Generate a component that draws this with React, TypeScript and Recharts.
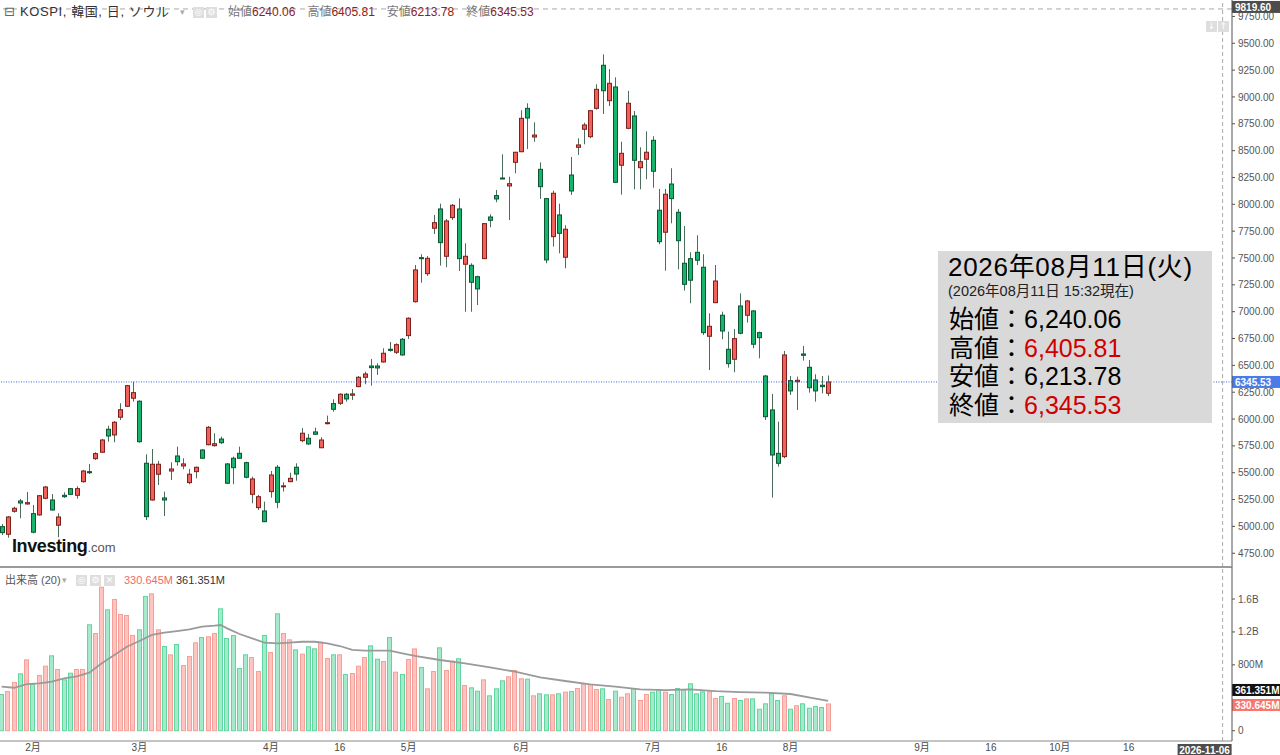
import React from 'react';
import { ComposedChart, Bar, Line, XAxis, YAxis, ReferenceLine } from 'recharts';

// ---------- data ----------
const tradingDays: [number, number[]][] = [
  [1, [26, 27, 28, 29, 30]],
  [2, [2, 3, 4, 5, 6, 9, 10, 11, 12, 13, 19, 20, 23, 24, 25, 26, 27]],
  [3, [3, 4, 5, 6, 9, 10, 11, 12, 13, 16, 17, 18, 19, 20, 23, 24, 25, 26, 27, 30, 31]],
  [4, [1, 2, 3, 6, 7, 8, 9, 10, 13, 14, 15, 16, 17, 20, 21, 22, 23, 24, 27, 28, 29, 30]],
  [5, [4, 6, 7, 8, 11, 12, 13, 14, 15, 18, 19, 20, 21, 22, 26, 27, 28, 29]],
  [6, [1, 2, 4, 5, 8, 9, 10, 11, 12, 15, 16, 17, 18, 19, 22, 23, 24, 25, 26, 29, 30]],
  [7, [1, 2, 3, 6, 7, 8, 9, 10, 13, 14, 15, 16, 20, 21, 22, 23, 24, 27, 28, 29, 30, 31]],
  [8, [3, 4, 5, 6, 7, 10, 11]],
];
const futureDays: [number, number[]][] = [
  [8, [12, 13, 14, 17, 18, 19, 20, 21, 24, 25, 26, 27, 28, 31]],
  [9, [1, 2, 3, 4, 7, 8, 9, 10, 11, 14, 15, 16, 17, 18, 21, 22, 23, 24, 25, 28, 29, 30]],
  [10, [1, 2, 5, 6, 7, 8, 9, 12, 13, 14, 15, 16, 19, 20, 21, 22, 23, 26, 27, 28, 29, 30]],
  [11, [2, 3, 4, 5, 6, 9]],
];

const openP = [
  4998, 4927, 5141, 5237, 5209, 5119, 5107, 5262, 5246, 5011, 5290, 5352, 5290, 5417, 5510, 5631, 5691, 5905, 5852, 6017,
  6119, 6194, 6166, 5588, 5246, 5486, 5265, 5516, 5656, 5563, 5408, 5510, 5712, 5761, 5752, 5814, 5582, 5635, 5681, 5594,
  5299, 5175, 5144, 5324, 5551, 5370, 5417, 5551, 5799, 5821, 5880, 5733, 5957, 6144, 6147, 6231, 6222, 6302, 6389, 6494,
  6494, 6532, 6650, 6622, 6743, 6777, 7093, 7503, 7354, 7777, 7957, 7516, 7876, 7957, 7442, 7432, 7326, 7494, 7882, 8081,
  8245, 8171, 8391, 8490, 8894, 8627, 8326, 8053, 7699, 7901, 7507, 8273, 8531, 8699, 8630, 8894, 9295, 8965, 9093, 8364,
  8708, 8823, 8341, 8420, 8596, 7945, 7740, 8189, 7926, 7451, 7494, 7553, 7414, 6771, 7084, 6967, 6650, 6557, 7053, 6967,
  7007, 6805, 6401, 6085, 5681, 5650, 6358, 6348, 6606, 6482, 6364, 6315, 6240.06,
];
const highP = [
  5023, 5097, 5184, 5256, 5321, 5200, 5290, 5377, 5302, 5122, 5318, 5358, 5374, 5526, 5582, 5691, 5815, 5938, 5982, 6147,
  6318, 6348, 6175, 5672, 5721, 5610, 5324, 5597, 5743, 5635, 5535, 5557, 5721, 5936, 5868, 5836, 5590, 5650, 5743, 5603,
  5463, 5293, 5231, 5516, 5572, 5411, 5500, 5588, 5917, 5861, 5920, 5830, 6032, 6184, 6240, 6243, 6280, 6401, 6441, 6560,
  6520, 6659, 6718, 6706, 6755, 6948, 7435, 7535, 7519, 7901, 8006, 7863, 8003, 8056, 7637, 7451, 7335, 7825, 7907, 8134,
  8466, 8257, 8488, 8876, 8941, 8764, 8391, 8060, 8127, 8006, 7805, 8441, 8615, 8760, 8879, 9118, 9397, 9260, 9183, 8583,
  9056, 8869, 8531, 8680, 8634, 8143, 8143, 8336, 7957, 7798, 7553, 7712, 7535, 6985, 7435, 7000, 6814, 6839, 7171, 7109,
  7015, 6814, 6411, 6234, 5976, 6634, 6401, 6395, 6681, 6550, 6417, 6401, 6405.81,
];
const lowP = [
  4920, 4895, 5128, 5076, 5203, 4936, 5100, 5253, 5147, 4899, 5265, 5292, 5258, 5407, 5488, 5619, 5685, 5789, 5784, 5991,
  6112, 6162, 5780, 5060, 5240, 5386, 5097, 5433, 5566, 5532, 5393, 5448, 5630, 5755, 5743, 5768, 5395, 5393, 5630, 5448,
  5216, 5153, 5040, 5268, 5169, 5324, 5411, 5426, 5784, 5760, 5855, 5728, 5951, 6069, 6131, 6162, 6178, 6296, 6324, 6311,
  6411, 6525, 6628, 6606, 6590, 6746, 7085, 7270, 7333, 7724, 7429, 7414, 7854, 7379, 6999, 6999, 7062, 7490, 7786, 8019,
  8236, 7854, 8289, 8485, 8515, 8583, 8050, 7451, 7606, 7544, 7404, 8087, 8460, 8559, 8615, 8881, 8841, 8916, 8200, 8090,
  8700, 8140, 8140, 8233, 8155, 7628, 7382, 7823, 7395, 7196, 7078, 7435, 6783, 6457, 7080, 6743, 6479, 6436, 6790, 6898,
  6659, 6566, 5991, 5268, 5557, 5635, 6224, 6085, 6544, 6246, 6162, 6240, 6213.78,
];
const closeP = [
  4942, 5088, 5169, 5218, 5221, 4946, 5286, 5367, 5153, 5088, 5277, 5299, 5352, 5516, 5500, 5678, 5805, 5842, 5970, 6087,
  6311, 6246, 5789, 5091, 5579, 5579, 5246, 5535, 5603, 5582, 5486, 5551, 5635, 5923, 5770, 5780, 5402, 5547, 5635, 5458,
  5442, 5277, 5044, 5479, 5225, 5378, 5448, 5488, 5868, 5768, 5858, 5805, 5966, 6091, 6231, 6187, 6234, 6389, 6420, 6479,
  6476, 6613, 6640, 6693, 6597, 6939, 7389, 7494, 7497, 7829, 7643, 7845, 7991, 7494, 7516, 7274, 7212, 7820, 7851, 8050,
  8236, 8192, 8485, 8801, 8804, 8645, 8164, 7482, 8103, 7730, 7768, 8124, 8553, 8739, 8872, 9071, 9058, 9127, 8205, 8475,
  8941, 8410, 8397, 8485, 8308, 7652, 8094, 8053, 7661, 7255, 7293, 7479, 6805, 6864, 7286, 6820, 6516, 6749, 6799, 7100,
  6697, 6758, 6022, 5665, 5588, 6597, 6262, 6361, 6594, 6292, 6262, 6302, 6345.53,
];
// volume in millions of shares
const volumeM = [
  446, 482, 592, 697, 867, 567, 677, 790, 916, 750, 624, 705, 750, 750, 1293, 1187, 1750, 1475, 1600, 1418,
  1406, 1163, 1232, 1637, 1669, 1232, 1029, 928, 1053, 798, 908, 1074, 1138, 1147, 1187, 1487, 1126, 1163, 762, 928,
  895, 725, 1163, 956, 1426, 1187, 1110, 989, 936, 1025, 1001, 1082, 883, 928, 928, 689, 701, 790, 895, 1037,
  875, 847, 1138, 717, 689, 871, 1000, 775, 515, 725, 1013, 737, 851, 880, 555, 527, 486, 624, 430, 515,
  612, 661, 737, 637, 632, 430, 454, 442, 442, 454, 474, 482, 519, 576, 567, 507, 515, 385, 486, 413,
  454, 515, 373, 446, 474, 507, 474, 446, 519, 503, 576, 454, 478, 478, 397, 422, 340, 397, 373, 393,
  393, 267, 333, 454, 373, 430, 267, 309, 333, 279, 300, 288, 330.645,
];
// 20-day volume average, read at these bar positions
const maAt = [0, 2, 4, 6, 8, 10, 12, 14, 16, 18, 20, 22, 24, 26, 28, 30, 32, 34, 35, 36, 38, 40, 42, 44, 46, 48, 50, 52, 54, 56, 58, 60, 62, 64, 66, 70, 74, 78, 82, 86, 90, 94, 98, 102, 106, 110, 114, 118, 122, 126, 130, 132];
const maValue = [535, 522, 567, 576, 595, 637, 661, 705, 819, 920, 1021, 1090, 1163, 1191, 1211, 1232, 1264, 1276, 1284, 1244, 1175, 1123, 1069, 1062, 1069, 1081, 1081, 1062, 1029, 981, 972, 972, 972, 940, 908, 859, 819, 770, 717, 649, 604, 564, 535, 503, 494, 503, 482, 470, 462, 446, 389, 361.351];

const priceTicks = [4750, 5000, 5250, 5500, 5750, 6000, 6250, 6500, 6750, 7000, 7250, 7500, 7750, 8000, 8250, 8500, 8750, 9000, 9250, 9500, 9750];
const volumeTicks = [0, 800, 1200, 1600];
const xTickLabels: [string, string][] = [
  ['2026-02-02', '2月'], ['2026-03-03', '3月'], ['2026-04-01', '4月'], ['2026-04-16', '16'], ['2026-05-04', '5月'],
  ['2026-06-01', '6月'], ['2026-07-01', '7月'], ['2026-07-16', '16'], ['2026-08-03', '8月'], ['2026-09-01', '9月'],
  ['2026-09-16', '16'], ['2026-10-01', '10月'], ['2026-10-16', '16'],
];
const lastClose = 6345.53;
const crossPrice = 9819.6;
const crossDate = '2026-11-06';
const volLast = 330.645;
const volMaLast = 361.351;

// ---------- build rows ----------
const pad = (n: number) => (n < 10 ? '0' + n : '' + n);
const toDates = (list: [number, number[]][]) =>
  list.flatMap(([m, ds]) => ds.map((d) => `2026-${pad(m)}-${pad(d)}`));
const allDates = [...toDates(tradingDays), ...toDates(futureDays)];
const maMap = new Map<number, number>(maAt.map((i, k) => [i, maValue[k]]));
const rows = allDates.map((date, i) =>
  i < openP.length
    ? {
        date,
        open: openP[i],
        high: highP[i],
        low: lowP[i],
        close: closeP[i],
        range: [lowP[i], highP[i]],
        volume: volumeM[i],
        ma: maMap.has(i) ? maMap.get(i) : null,
      }
    : { date }
);
const labelMap = new Map(xTickLabels);
const xTicks = xTickLabels.map((t) => t[0]);

// ---------- styles ----------
const FONT = "'Liberation Sans', Arial, 'Noto Sans CJK JP', sans-serif";
const UP_FILL = '#f2605a';
const UP_EDGE = '#7d1f1b';
const DN_FILL = '#17b46c';
const DN_EDGE = '#0b5533';
const WICK = '#4d6d5c';
const VUP_FILL = '#ffc3c0';
const VUP_EDGE = '#f69e98';
const VDN_FILL = '#a6e9cb';
const VDN_EDGE = '#5fd6a0';
const AXIS = '#555';

function Candle(props: any) {
  const { x, y, width, height, payload } = props;
  if (!payload || payload.open == null || !isFinite(y) || !isFinite(height)) return null;
  const top = Math.min(y, y + height);
  const bottom = Math.max(y, y + height);
  const { open: o, close: c, high: h, low: l } = payload;
  const k = (bottom - top) / (h - l || 1);
  const py = (v: number) => top + (h - v) * k;
  const up = c >= o;
  const cx = Math.round(x + width / 2) + 0.5;
  const bTop = py(Math.max(o, c));
  const bBot = py(Math.min(o, c));
  return (
    <g>
      <line x1={cx} x2={cx} y1={top} y2={bottom} stroke={WICK} strokeWidth={1} />
      <rect
        x={cx - 2}
        y={bTop}
        width={4}
        height={Math.max(bBot - bTop, 1)}
        fill={up ? UP_FILL : DN_FILL}
        stroke={up ? UP_EDGE : DN_EDGE}
        strokeWidth={1}
      />
    </g>
  );
}

function VolBar(props: any) {
  const { x, y, width, height, payload } = props;
  if (!payload || payload.volume == null || !isFinite(y) || !isFinite(height)) return null;
  const up = payload.close >= payload.open;
  const x0 = Math.round(x) + 0.5;
  const w = Math.max(Math.round(width) - 1, 1);
  return (
    <rect
      x={x0}
      y={y + 0.5}
      width={w}
      height={Math.max(height - 0.5, 0)}
      fill={up ? VUP_FILL : VDN_FILL}
      stroke={up ? VUP_EDGE : VDN_EDGE}
      strokeWidth={1}
    />
  );
}

const makeTag = (text: string, bg: string, dy: number) => (p: any) => {
  const vb = p.viewBox || {};
  const x = (vb.x || 0) + (vb.width || 0);
  const y = (vb.y || 0) + dy;
  return (
    <g>
      <rect x={x} y={y - 6} width={50} height={12} fill={bg} />
      <text x={x + 3} y={y + 3.6} fill="#fff" fontSize={10} fontWeight="bold" fontFamily={FONT}>
        {text}
      </text>
    </g>
  );
};

const dateTag = (text: string) => (p: any) => {
  const vb = p.viewBox || {};
  const x = vb.x || 0;
  const y = (vb.y || 0) + (vb.height || 0);
  return (
    <g>
      <rect x={x - 45} y={y + 3} width={54} height={12} fill="#4d4d4d" />
      <text x={x - 18} y={y + 12.5} fill="#fff" fontSize={10} fontWeight="bold" textAnchor="middle" fontFamily={FONT}>
        {text}
      </text>
    </g>
  );
};

const iconBox = (left: number, top: number, glyph: string) => (
  <div
    style={{
      position: 'absolute',
      left,
      top,
      width: 11,
      height: 11,
      background: '#dedede',
      color: '#fff',
      fontSize: 9,
      lineHeight: '11px',
      textAlign: 'center',
      fontFamily: "'DejaVu Sans', sans-serif",
    }}
  >
    {glyph}
  </div>
);

export default function App() {
  const ohlc: [string, string, string][] = [
    ['始値', '6240.06', '#8b2020'],
    ['高値', '6405.81', '#8b2020'],
    ['安値', '6213.78', '#8b2020'],
    ['終値', '6345.53', '#8b2020'],
  ];
  const infoRows: [string, string, string][] = [
    ['始値', '6,240.06', '#000'],
    ['高値', '6,405.81', '#d00000'],
    ['安値', '6,213.78', '#000'],
    ['終値', '6,345.53', '#d00000'],
  ];
  return (
    <div
      style={{
        position: 'absolute',
        left: 0,
        top: 0,
        width: 1280,
        height: 755,
        background: '#fff',
        overflow: 'hidden',
        fontFamily: FONT,
      }}
    >
      {/* price panel */}
      <div style={{ position: 'absolute', left: 0, top: 0 }}>
        <ComposedChart width={1280} height={567} data={rows} margin={{ top: 0, right: 0, bottom: 0, left: -1.5 }} barCategoryGap={1}>
          <XAxis dataKey="date" hide />
          <YAxis
            orientation="right"
            width={48}
            domain={[4622, 9903]}
            allowDataOverflow
            ticks={priceTicks}
            interval={0}
            tickFormatter={(v: number) => v.toFixed(2)}
            tick={{ fontSize: 10, fill: '#555', fontFamily: FONT }}
            tickLine={{ stroke: AXIS }}
            axisLine={{ stroke: AXIS }}
            tickSize={3}
            tickMargin={3}
          />
          <ReferenceLine x={crossDate} stroke="#aaa" strokeDasharray="4 3" />
          <ReferenceLine y={crossPrice} stroke="#aaa" strokeDasharray="5 4" label={makeTag(crossPrice.toFixed(2), '#4d4d4d', -2)} />
          <ReferenceLine y={lastClose} stroke="#3d64d8" strokeDasharray="1 1.5" label={makeTag(lastClose.toFixed(2), '#4a7be8', 0)} />
          <Bar dataKey="range" shape={Candle} isAnimationActive={false} />
        </ComposedChart>
      </div>

      {/* separator */}
      <div style={{ position: 'absolute', left: 0, top: 566, width: 1232, height: 2, background: '#9a9a9a' }} />

      {/* volume panel */}
      <div style={{ position: 'absolute', left: 0, top: 567 }}>
        <ComposedChart width={1280} height={188} data={rows} margin={{ top: 0, right: 0, bottom: 0, left: -1.5 }} barCategoryGap={0.5}>
          <XAxis
            dataKey="date"
            ticks={xTicks}
            interval={0}
            tickFormatter={(d: string) => labelMap.get(d) ?? ''}
            tick={{ fontSize: 10, fill: '#4a4a4a', fontFamily: FONT }}
            tickLine={false}
            axisLine={{ stroke: '#888' }}
            tickSize={1}
            tickMargin={2}
            height={14}
          />
          <YAxis
            orientation="right"
            width={48}
            domain={[-125, 1989]}
            allowDataOverflow
            ticks={volumeTicks}
            interval={0}
            tickFormatter={(v: number) => (v === 0 ? '0' : v >= 1000 ? (v / 1000).toFixed(1) + 'B' : v + 'M')}
            tick={{ fontSize: 10, fill: '#555', fontFamily: FONT }}
            tickLine={{ stroke: AXIS }}
            axisLine={{ stroke: AXIS }}
            tickSize={3}
            tickMargin={3}
          />
          <Bar dataKey="volume" shape={VolBar} isAnimationActive={false} />
          <Line dataKey="ma" stroke="#9a9a9a" strokeWidth={1.8} dot={false} connectNulls isAnimationActive={false} />
          <ReferenceLine x={crossDate} stroke="#aaa" strokeDasharray="4 3" label={dateTag(crossDate)} />
          <ReferenceLine y={volMaLast} stroke="none" label={makeTag(volMaLast.toFixed(3) + 'M', '#111', -11)} />
          <ReferenceLine y={volLast} stroke="none" label={makeTag(volLast.toFixed(3) + 'M', '#f7766e', 1.5)} />
        </ComposedChart>
      </div>

      {/* header */}
      <div style={{ position: 'absolute', left: 4, top: 4, fontSize: 13, color: '#666', lineHeight: '16px', fontFamily: "'DejaVu Sans', sans-serif" }}>⊟</div>
      <div style={{ position: 'absolute', left: 20, top: 5, fontSize: 13, letterSpacing: 0.6, color: '#333', lineHeight: '14px', whiteSpace: 'nowrap' }}>
        KOSPI, 韓国, 日, ソウル
      </div>
      <div style={{ position: 'absolute', left: 180, top: 5, fontSize: 9, color: '#aaa', lineHeight: '14px', fontFamily: "'DejaVu Sans', sans-serif" }}>▾</div>
      {iconBox(193, 7, '◎')}
      {iconBox(206, 7, '⚙')}
      <div style={{ position: 'absolute', left: 228, top: 5, fontSize: 12, lineHeight: '14px', whiteSpace: 'nowrap', display: 'flex', gap: 12 }}>
        {ohlc.map(([k, v, c]) => (
          <span key={k}>
            <span style={{ color: '#777' }}>{k}</span>
            <span style={{ color: c }}>{v}</span>
          </span>
        ))}
      </div>
      {iconBox(1206, 21, '↓')}
      {iconBox(1218, 21, '↑')}

      {/* logo */}
      <div style={{ position: 'absolute', left: 12, top: 536, whiteSpace: 'nowrap', lineHeight: '20px' }}>
        <span style={{ fontSize: 18, fontWeight: 'bold', color: '#111', letterSpacing: -0.4 }}>Investing</span>
        <span style={{ fontSize: 13, color: '#555' }}>.com</span>
      </div>

      {/* volume header */}
      <div style={{ position: 'absolute', left: 5, top: 574, fontSize: 11, color: '#555', lineHeight: '13px', whiteSpace: 'nowrap' }}>
        出来高 (20)
      </div>
      <div style={{ position: 'absolute', left: 62, top: 574, fontSize: 9, color: '#aaa', lineHeight: '13px', fontFamily: "'DejaVu Sans', sans-serif" }}>▾</div>
      {iconBox(76, 575, '◎')}
      {iconBox(90, 575, '⚙')}
      {iconBox(104, 575, '✕')}
      <div style={{ position: 'absolute', left: 124, top: 574, fontSize: 11, color: '#f06a64', lineHeight: '13px' }}>330.645M</div>
      <div style={{ position: 'absolute', left: 176, top: 574, fontSize: 11, color: '#333', lineHeight: '13px' }}>361.351M</div>

      {/* info box */}
      <div style={{ position: 'absolute', left: 938, top: 251, width: 274, height: 172, background: '#d9d9d9', fontFamily: FONT, color: '#000' }}>
        <div style={{ position: 'absolute', left: 10, top: 3, fontSize: 26, letterSpacing: 0.7, lineHeight: '26px', whiteSpace: 'nowrap' }}>2026年08月11日(火)</div>
        <div style={{ position: 'absolute', left: 10, top: 33, fontSize: 14.5, lineHeight: '15px', whiteSpace: 'nowrap', color: '#222' }}>
          (2026年08月11日 15:32現在)
        </div>
        {infoRows.map(([k, v, c], i) => (
          <div key={k} style={{ position: 'absolute', left: 11, top: 56 + i * 28.5, fontSize: 25, lineHeight: '25px', whiteSpace: 'nowrap' }}>
            {k}：<span style={{ color: c }}>{v}</span>
          </div>
        ))}
      </div>
    </div>
  );
}
